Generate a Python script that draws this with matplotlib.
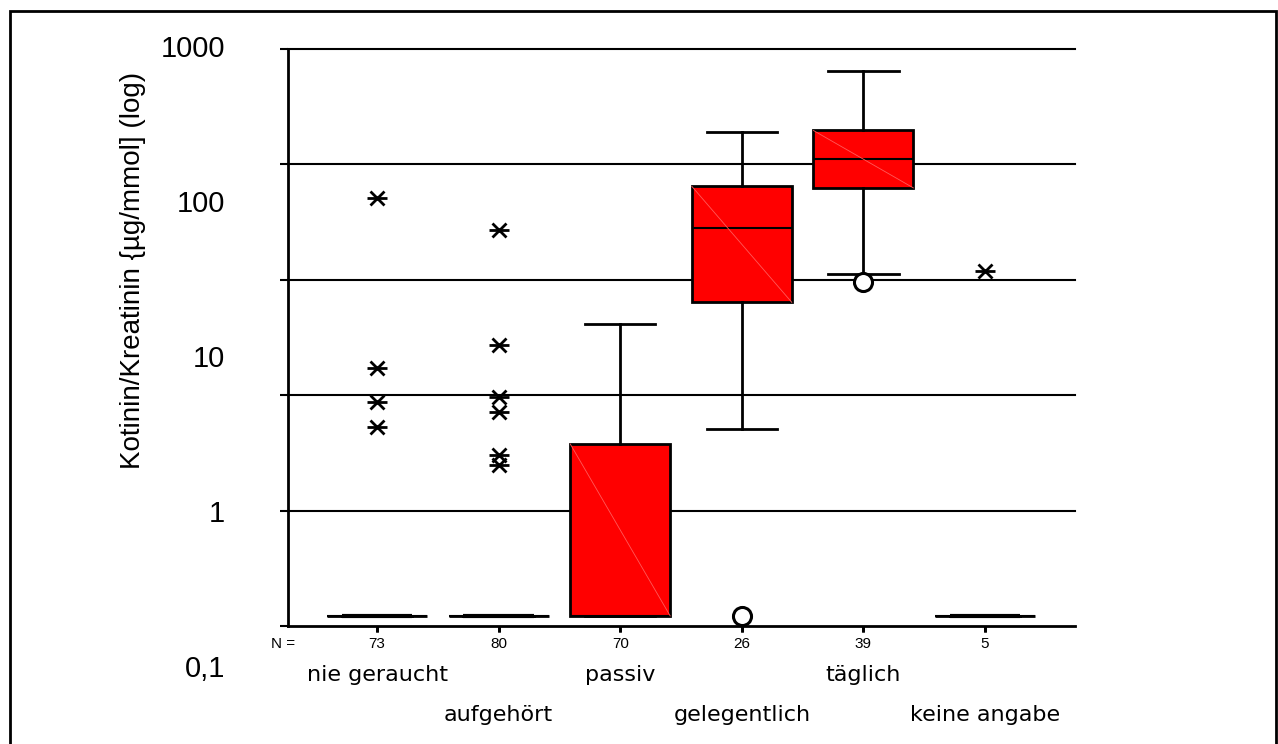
import numpy as np
import matplotlib
matplotlib.use('Agg')
import matplotlib.pyplot as plt
from matplotlib.patches import Rectangle

# datos (escala log, ug/mmol)
grupos = ['nie geraucht', 'aufgehört', 'passiv', 'gelegentlich', 'täglich', 'keine angabe']
n_casos = [73, 80, 70, 26, 39, 5]
q1 = [0.22, 0.22, 0.22, 23.2, 127, 0.22]
mediana = [0.22, 0.22, 0.22, 70, 194, 0.22]
q3 = [0.22, 0.22, 2.83, 130, 298, 0.22]
bigote_inf = [0.22, 0.22, 0.22, 3.55, 35.2, 0.22]
bigote_sup = [0.22, 0.22, 16.8, 290, 722, 0.22]
extremos = [[110, 8.8, 5.3, 3.66], [68, 12.4, 5.7, 4.57, 2.4, 2.07], [], [], [], [37]]
atipicos = [[], [], [], [0.22], [31.6], []]

etiquetas_y = ['1000', '100', '10', '1', '0,1']
valores_y = [1000, 100, 10, 1, 0.1]

plt.rcParams['font.family'] = ['Liberation Sans', 'DejaVu Sans']

W, H = 1278, 744
fig = plt.figure(figsize=(W / 100, H / 100), dpi=100)

# ejes: 155 px por decada, arriba 1000
top_px, bot_px, left_px, right_px = 49, 626, 288, 1075
ax = fig.add_axes([left_px / W, 1 - bot_px / H, (right_px - left_px) / W, (bot_px - top_px) / H])
ax.set_yscale('log')
y_min = 10 ** (3 - (bot_px - top_px) / 155)
ax.set_ylim(y_min, 1000)
ax.set_xlim(-0.732, 5.74)

# lineas horizontales
for g in np.geomspace(y_min, 1000, 6)[1:]:
    ax.axhline(g, color='black', lw=1.5, zorder=1, clip_on=False)
ax.set_yticks(np.geomspace(y_min, 1000, 6))
ax.yaxis.set_minor_locator(matplotlib.ticker.NullLocator())
ax.tick_params(axis='y', length=6, width=1.5, labelleft=False)
ax.set_xticks(range(len(grupos)))
ax.tick_params(axis='x', length=4, width=2, labelbottom=False)

for s in ['top', 'right']:
    ax.spines[s].set_visible(False)
ax.spines['left'].set_linewidth(2)
ax.spines['bottom'].set_linewidth(2)

stats = []
for i in range(len(grupos)):
    stats.append(dict(med=mediana[i], q1=q1[i], q3=q3[i], whislo=bigote_inf[i], whishi=bigote_sup[i], fliers=[]))

ax.bxp(stats, positions=range(len(grupos)), widths=0.822, patch_artist=True, showfliers=False,
       boxprops=dict(facecolor='#ff0000', edgecolor='black', linewidth=2),
       medianprops=dict(color='black', linewidth=1.5),
       whiskerprops=dict(color='black', linewidth=2),
       capprops=dict(color='black', linewidth=2), capwidths=0.58, zorder=3)

# cajas planas: tapas superpuestas mas gruesas
for i in range(len(grupos)):
    if q1[i] == q3[i]:
        ax.plot([i - 0.29, i + 0.29], [q1[i], q1[i]], color='black', lw=3, zorder=4, solid_capstyle='butt')
    else:
        # linea diagonal del relleno
        ax.plot([i - 0.411, i + 0.411], [q3[i], q1[i]], color='#ff5a5a', lw=0.6, zorder=3.5)

for i in range(len(grupos)):
    for v in extremos[i]:
        ax.plot(i, v, marker='x', ms=10, mew=2, color='black', zorder=5)
        ax.plot(i, v, marker='_', ms=14, mew=2, color='black', zorder=5)
    for v in atipicos[i]:
        ax.plot(i, v, marker='o', ms=13, mew=2.2, mfc='white', mec='black', zorder=5)

# etiquetas eje y
for v, t in zip(valores_y, etiquetas_y):
    ax.text((225 - left_px) / (right_px - left_px), v, t, transform=ax.get_yaxis_transform(),
            ha='right', va='center', fontsize=21, clip_on=False)

fig.text(133 / W, 1 - 270 / H, 'Kotinin/Kreatinin {µg/mmol] (log)', rotation=90,
         ha='center', va='center', fontsize=20)

# N y categorias
alto = bot_px - top_px
ax.text((283 - left_px) / (right_px - left_px), -(644 - bot_px) / alto, 'N =',
        transform=ax.transAxes, ha='center', va='center', fontsize=11)
for i, g in enumerate(grupos):
    ax.text(i, -(644 - bot_px) / alto, str(n_casos[i]), transform=ax.get_xaxis_transform(),
            ha='center', va='center', fontsize=11)
    fila = 675 if i % 2 == 0 else 715
    ax.text(i, -(fila - bot_px) / alto, g, transform=ax.get_xaxis_transform(),
            ha='center', va='center', fontsize=16, family='DejaVu Sans')

fig.patches.append(Rectangle((10 / W, -0.05), 1266 / W, 1.05 - 11 / H, transform=fig.transFigure,
                             fill=False, lw=2, edgecolor='black'))

fig.savefig('out.png', dpi=100)
